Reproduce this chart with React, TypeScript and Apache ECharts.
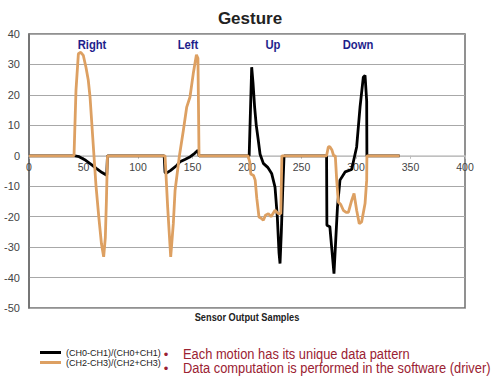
import React, { useEffect, useRef } from "react";
import * as echarts from "echarts";

const titleText = "Gesture";
const xAxisName = "Sensor Output Samples";
const gestureLabels = ["Right", "Left", "Up", "Down"];
const gestureLabelX = [92, 188, 273, 358];
const bullets = [
  "Each motion has its unique data pattern",
  "Data computation is performed in the software (driver)",
];
const seriesNames = ["(CH0-CH1)/(CH0+CH1)", "(CH2-CH3)/(CH2+CH3)"];

const ch01X = [0, 42, 46, 52, 57, 62, 67, 71.3, 72, 124, 124.8, 126, 130, 135.5, 138.5, 143, 148, 152, 155, 156,
  202, 204.3, 205.5, 207, 208.5, 210.4, 212, 215, 219, 222.6, 225.7, 227.8, 229.4, 230.3, 231.5, 232.7, 234,
  273, 273.3, 276, 279.8, 283, 285.3, 290, 296, 300.6, 303.7, 306.7, 308.3, 309.8, 310, 340];
const ch01Y = [0, 0, -0.3, -1.5, -2.8, -4.2, -5.5, -6.4, 0, 0, -5.5, -5.7, -4.8, -3.2, -2, -1.2, -0.3, 0.8, 1.8, 0,
  0, 29.1, 24, 16, 10, 5, 0.5, -2.5, -3.8, -5.8, -10.3, -20, -32, -35.4, -25, -12, 0,
  0, -22.8, -23.3, -38.7, -16.8, -8, -5.3, -4.5, 2.9, 16, 25.8, 26.4, 18, 0, 0];

const ch23X = [0, 41.3, 43.1, 45.3, 47.5, 49.8, 52.3, 54.4, 56, 59.6, 61.5, 64, 66.5, 68.5, 70, 71, 72,
  123, 124.8, 127.2, 130, 132.4, 134, 138, 141.6, 144.7, 147.7, 150.7, 153.6, 155, 156,
  201, 202.5, 203.5, 206, 207.5, 209, 211, 213, 215, 217, 219.6, 222, 225.7, 228.7, 231, 232,
  273, 274.6, 276, 277.8, 279.5, 281, 282.3, 283.8, 286, 288.4, 291, 293, 296.1, 298.2, 300.6, 303, 305.2, 308.3, 309.8, 310, 340];
const ch23Y = [0, 0, 21.5, 33.5, 34, 33, 29, 24.8, 19.3, 0, -10, -20, -29, -33.2, -27, -15, 0,
  0, 0, -16.8, -33.2, -22.3, -11.4, 0, 8.3, 16, 19.3, 27, 33.2, 32, 0,
  0, -2, -6, -6.5, -8, -14, -20.1, -20.5, -21.2, -19.5, -19, -20, -17.9, -19, -19, 0,
  0, 2.9, 3, 2, 0, 0, -8, -15.2, -16, -17.9, -18.6, -18.6, -14.6, -12.4, -17.9, -22.3, -21.7, -15.7, -8, 0, 0];

const zip = (xs: number[], ys: number[]) => xs.map((x, i) => [x, ys[i]]);

export default function App() {
  const ref = useRef<HTMLDivElement>(null);
  useEffect(() => {
    if (!ref.current) return;
    const chart = echarts.init(ref.current, undefined, { renderer: "svg" });
    const font = "'Liberation Sans', Arial, sans-serif";
    const redText = "#9b2232";
    const gridTop = 34;
    const gridBottom = 83;
    const plotH = 391 - gridTop - gridBottom;
    const yMin = -50;
    const yMax = 40;
    // distance from bottom edge of plot to the y=0 line
    const zeroFromBottom = (plotH * (0 - yMin)) / (yMax - yMin);
    chart.setOption({
      animation: false,
      backgroundColor: "#ffffff",
      textStyle: { fontFamily: font },
      title: {
        text: titleText,
        left: "center",
        top: 5,
        textStyle: { fontSize: 17, fontWeight: "bold", color: "#222", fontFamily: font },
      },
      grid: {
        left: 29,
        right: 35,
        top: gridTop,
        bottom: gridBottom,
        show: true,
        borderColor: "#6e6e6e",
        borderWidth: 1.5,
      },
      legend: {
        orient: "vertical",
        left: 35,
        top: 343,
        itemWidth: 21,
        itemHeight: 3,
        itemGap: 1,
        icon: "rect",
        textStyle: { fontSize: 9, color: "#222", fontFamily: font },
        data: seriesNames,
      },
      xAxis: {
        type: "value",
        min: 0,
        max: 400,
        interval: 50,
        position: "bottom",
        offset: -zeroFromBottom,
        axisLine: { show: true, onZero: false, lineStyle: { color: "#c8c8c8", width: 1.5 } },
        axisTick: { show: true, length: 3, lineStyle: { color: "#bbb" } },
        axisLabel: { fontSize: 10.5, color: "#444", margin: 6, fontFamily: font },
        splitLine: { show: false },
      },
      yAxis: {
        type: "value",
        min: yMin,
        max: yMax,
        interval: 10,
        axisLine: { show: true, onZero: false, lineStyle: { color: "#6e6e6e", width: 1.5 } },
        axisTick: { show: false },
        axisLabel: { fontSize: 11, color: "#444", margin: 9, fontFamily: font },
        splitLine: { lineStyle: { color: "#a8a8a8", width: 1 } },
      },
      series: [
        {
          name: seriesNames[0],
          type: "line",
          data: zip(ch01X, ch01Y),
          symbol: "none",
          lineStyle: { color: "#000000", width: 2.8 },
          itemStyle: { color: "#000000" },
        },
        {
          name: seriesNames[1],
          type: "line",
          data: zip(ch23X, ch23Y),
          symbol: "none",
          lineStyle: { color: "#DDA062", width: 2.8 },
          itemStyle: { color: "#DDA062" },
        },
      ],
      graphic: [
        ...gestureLabels.map((t, i) => ({
          type: "text",
          x: gestureLabelX[i],
          y: 45,
          scaleX: 0.9,
          style: {
            text: t,
            fontSize: 12.5,
            fontWeight: "bold",
            fontFamily: font,
            fill: "#1e1e8c",
            textAlign: "center",
            textVerticalAlign: "middle",
          },
        })),
        {
          type: "text",
          x: 247,
          y: 317,
          scaleX: 0.88,
          style: {
            text: xAxisName,
            fontSize: 10.5,
            fontWeight: "bold",
            fontFamily: font,
            fill: "#222",
            textAlign: "center",
            textVerticalAlign: "middle",
          },
        },
        ...bullets.flatMap((t, i) => [
          {
            type: "text",
            x: 166,
            y: 354 + i * 14,
            style: {
              text: "•",
              fontSize: 13,
              fontFamily: font,
              fill: redText,
              textAlign: "center",
              textVerticalAlign: "middle",
            },
          },
          {
            type: "text",
            x: 183,
            y: 354 + i * 14,
            scaleX: 0.92,
            style: {
              text: t,
              fontSize: 14,
              fontFamily: font,
              fill: redText,
              textAlign: "left",
              textVerticalAlign: "middle",
            },
          },
        ]),
      ],
    });
    return () => chart.dispose();
  }, []);
  return (
    <div
      ref={ref}
      style={{ position: "fixed", left: 0, top: 0, width: 500, height: 391 }}
    />
  );
}
